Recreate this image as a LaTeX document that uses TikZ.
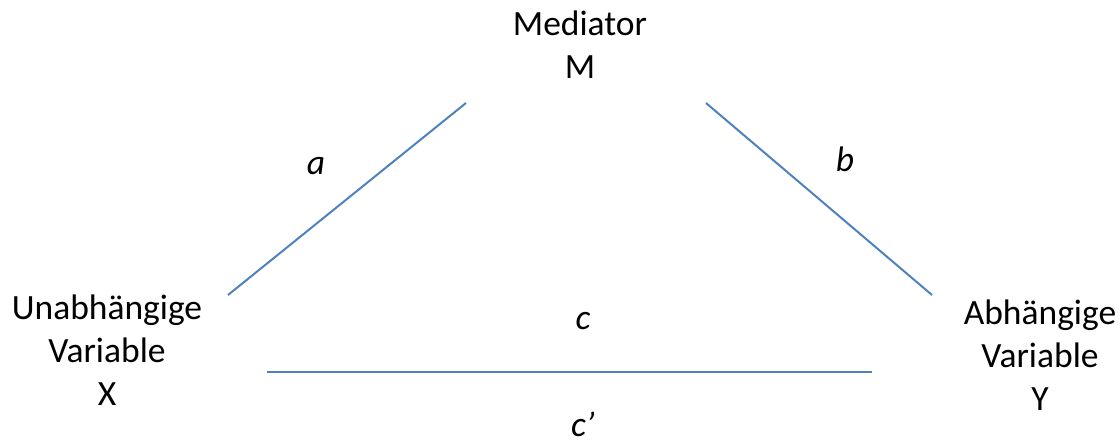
\documentclass[tikz,border=0pt]{standalone}
\usepackage{fontspec}
\setmainfont{Carlito}
\definecolor{lineblue}{HTML}{4F81BD}
\begin{document}
\begin{tikzpicture}[x=1pt,y=-1pt,
  lbl/.style={font=\fontsize{35.5}{43}\selectfont, align=center, inner sep=0pt, anchor=base},
  pth/.style={font=\fontsize{35.5}{43}\selectfont\itshape, inner sep=0pt, anchor=base},
  link/.style={draw=lineblue, line width=2pt}]
\useasboundingbox (0,0) rectangle (1120,441);
\node[lbl] (M) at (580,79) {Mediator\\M};
\node[lbl] (X) at (107,405) {Unabhängige\\Variable\\X};
\node[lbl] (Y) at (1040,410) {Abhängige\\Variable\\Y};
\coordinate (a1) at (228,295);
\coordinate (a2) at (466,103);
\coordinate (b1) at (706,103);
\coordinate (b2) at (932,295);
\coordinate (c1) at (267,372);
\coordinate (c2) at (872,372);
\draw[link] (a1) -- (a2);
\draw[link] (b1) -- (b2);
\draw[link] (c1) -- (c2);
\node[pth] (la) at (316,175) {a};
\node[pth] (lb) at (845,172) {b};
\node[pth] (lc) at (583,329) {c};
\node[pth] (lcp) at (583,436) {c’};
\end{tikzpicture}
\end{document}
